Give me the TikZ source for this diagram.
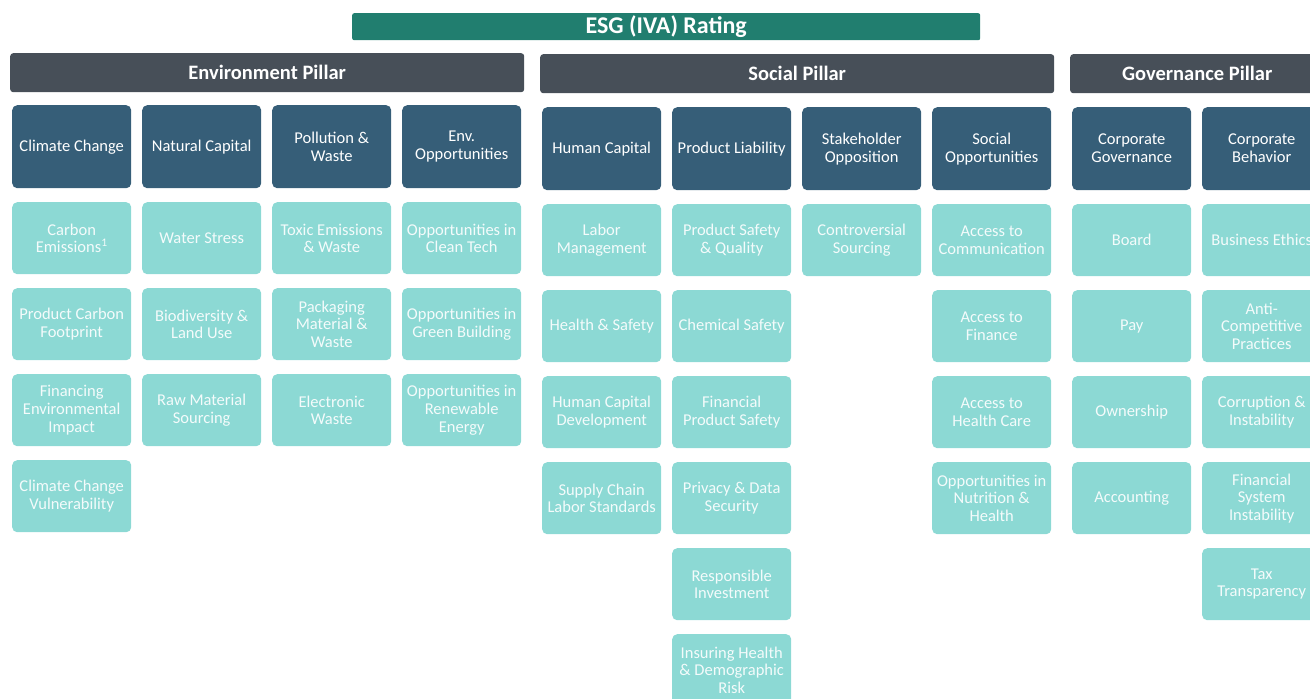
\documentclass[tikz,border=0pt]{standalone}
\usepackage{fontspec}
\setmainfont{Carlito}
\definecolor{titleteal}{HTML}{217E6F}
\definecolor{pillargray}{HTML}{474F58}
\definecolor{catblue}{HTML}{365E78}
\definecolor{subteal}{HTML}{8CD9D4}
\definecolor{subtext}{HTML}{F4FBFB}
\tikzset{
  titlebar/.style={anchor=north west, fill=titleteal, rounded corners=2pt, minimum width=628pt, minimum height=27pt, inner sep=0pt, text=white, font=\fontsize{24}{26}\selectfont\bfseries},
  pillarbar/.style={anchor=north west, fill=pillargray, rounded corners=3pt, minimum height=39pt, inner sep=0pt, text=white, font=\fontsize{20.5}{22}\selectfont\bfseries},
  catbox/.style={anchor=north west, fill=catblue, rounded corners=5pt, minimum width=119pt, minimum height=83pt, inner sep=0pt, text=white, align=center, font=\fontsize{16.5}{18}\selectfont},
  subbox/.style={anchor=north west, fill=subteal, rounded corners=5pt, minimum width=119pt, minimum height=72pt, inner sep=0pt, text=subtext, align=center, font=\fontsize{16.5}{17.6}\selectfont}
}
\begin{document}
\begin{tikzpicture}[x=1pt,y=-1pt]
\useasboundingbox (0,0) rectangle (1310,699);
\clip (0,0) rectangle (1310,699);
% title
\node[titlebar] (esg) at (352,13) {ESG (IVA) Rating};
% pillars
\node[pillarbar, minimum width=514pt] (envp) at (10,53) {Environment Pillar};
\node[pillarbar, minimum width=514pt] (socp) at (540,54) {Social Pillar};
\node[pillarbar, minimum width=254pt] (govp) at (1070,54) {Governance Pillar};
% environment categories
\node[catbox] (cc) at (12,105) {Climate Change};
\node[catbox] (nc) at (142,105) {Natural Capital};
\node[catbox] (pw) at (272,105) {Pollution \&\\Waste};
\node[catbox] (eo) at (402,105) {Env.\\Opportunities};
% environment issues
\node[subbox] (cc1) at (12,202) {Carbon\\Emissions\textsuperscript{1}};
\node[subbox] (cc2) at (12,288) {Product Carbon\\Footprint};
\node[subbox] (cc3) at (12,374) {Financing\\Environmental\\Impact};
\node[subbox] (cc4) at (12,460) {Climate Change\\Vulnerability};
\node[subbox] (nc1) at (142,202) {Water Stress};
\node[subbox] (nc2) at (142,288) {Biodiversity \&\\Land Use};
\node[subbox] (nc3) at (142,374) {Raw Material\\Sourcing};
\node[subbox] (pw1) at (272,202) {Toxic Emissions\\\& Waste};
\node[subbox] (pw2) at (272,288) {Packaging\\Material \&\\Waste};
\node[subbox] (pw3) at (272,374) {Electronic\\Waste};
\node[subbox] (eo1) at (402,202) {Opportunities in\\Clean Tech};
\node[subbox] (eo2) at (402,288) {Opportunities in\\Green Building};
\node[subbox] (eo3) at (402,374) {Opportunities in\\Renewable\\Energy};
% social categories
\node[catbox] (hc) at (542,107) {Human Capital};
\node[catbox] (pl) at (672,107) {Product Liability};
\node[catbox] (so) at (802,107) {Stakeholder\\Opposition};
\node[catbox] (sop) at (932,107) {Social\\Opportunities};
% social issues
\node[subbox] (hc1) at (542,204) {Labor\\Management};
\node[subbox] (hc2) at (542,290) {Health \& Safety};
\node[subbox] (hc3) at (542,376) {Human Capital\\Development};
\node[subbox] (hc4) at (542,462) {Supply Chain\\Labor Standards};
\node[subbox] (pl1) at (672,204) {Product Safety\\\& Quality};
\node[subbox] (pl2) at (672,290) {Chemical Safety};
\node[subbox] (pl3) at (672,376) {Financial\\Product Safety};
\node[subbox] (pl4) at (672,462) {Privacy \& Data\\Security};
\node[subbox] (pl5) at (672,548) {Responsible\\Investment};
\node[subbox] (pl6) at (672,634) {Insuring Health\\\& Demographic\\Risk};
\node[subbox] (so1) at (802,204) {Controversial\\Sourcing};
\node[subbox] (sop1) at (932,204) {Access to\\Communication};
\node[subbox] (sop2) at (932,290) {Access to\\Finance};
\node[subbox] (sop3) at (932,376) {Access to\\Health Care};
\node[subbox] (sop4) at (932,462) {Opportunities in\\Nutrition \&\\Health};
% governance categories
\node[catbox] (cg) at (1072,107) {Corporate\\Governance};
\node[catbox] (cb) at (1202,107) {Corporate\\Behavior};
% governance issues
\node[subbox] (cg1) at (1072,204) {Board};
\node[subbox] (cg2) at (1072,290) {Pay};
\node[subbox] (cg3) at (1072,376) {Ownership};
\node[subbox] (cg4) at (1072,462) {Accounting};
\node[subbox] (cb1) at (1202,204) {Business Ethics};
\node[subbox] (cb2) at (1202,290) {Anti-\\Competitive\\Practices};
\node[subbox] (cb3) at (1202,376) {Corruption \&\\Instability};
\node[subbox] (cb4) at (1202,462) {Financial\\System\\Instability};
\node[subbox] (cb5) at (1202,548) {Tax\\Transparency};
\end{tikzpicture}
\end{document}
